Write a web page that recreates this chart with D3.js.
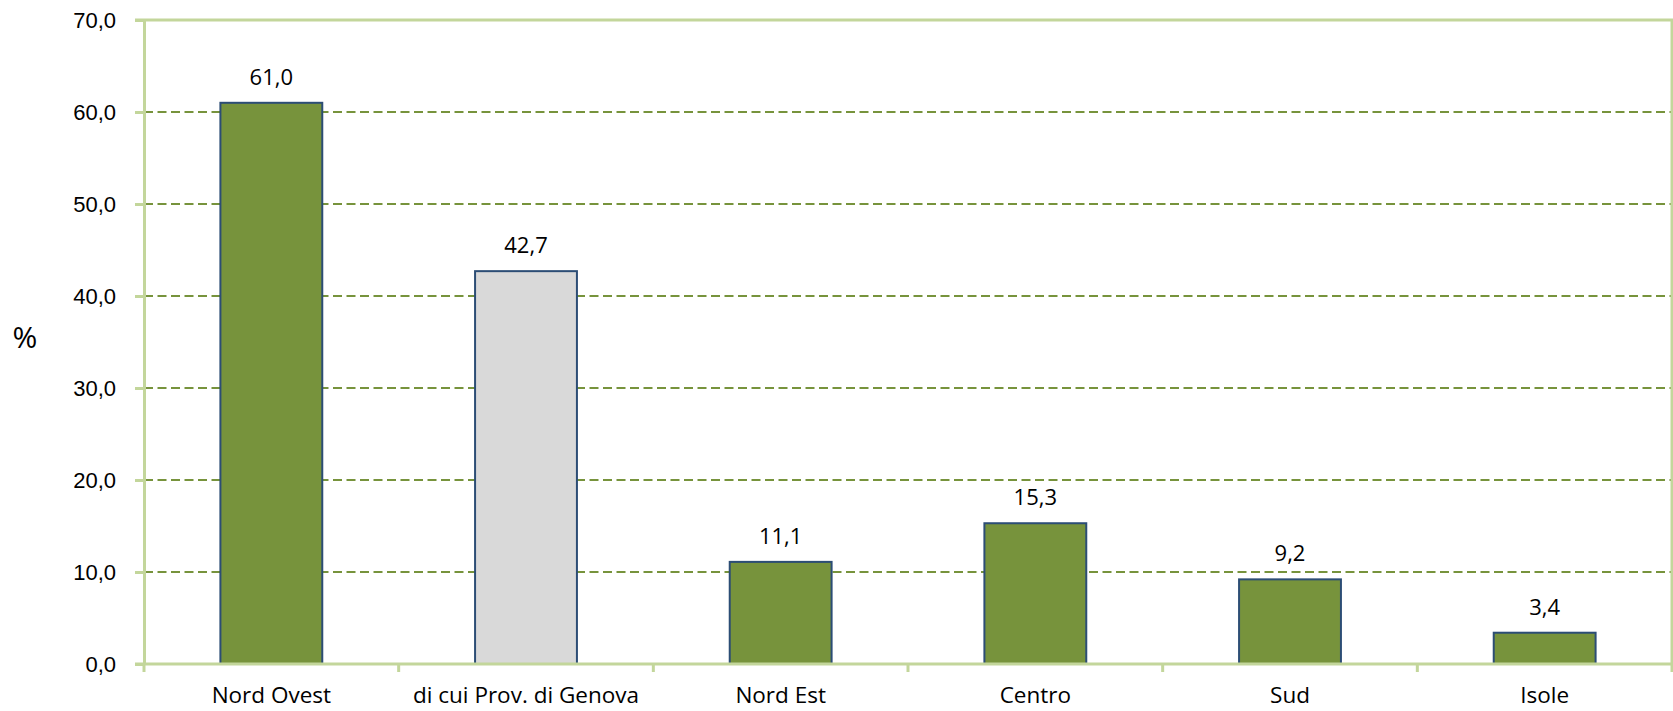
<!DOCTYPE html>
<html>
<head>
<meta charset="utf-8">
<script src="https://cdn.jsdelivr.net/npm/d3@7"></script>
<style>
    body { margin: 0; background: #fff; }
    svg { display: block; font-family: "Open Sans", sans-serif; }
    .axis path, .axis line { stroke: #c3d69b; stroke-width: 3; }
    .axis text { fill: #000; font-size: 22px; }
    .axis .label { font-size: 22.5px; }
    .grid line { stroke: #77933c; stroke-width: 2; stroke-dasharray: 9 4.5; }
    .bar { stroke: #2c4d75; stroke-width: 2; }
    .value { font-size: 22px; fill: #000; }
</style>
</head>
<body>
<div id="chart"></div>
<script>

var categories = ["Nord Ovest", "di cui Prov. di Genova", "Nord Est", "Centro", "Sud", "Isole"];
var values = [61.0, 42.7, 11.1, 15.3, 9.2, 3.4];
var highlighted = ["di cui Prov. di Genova"];
var yTicks = [0, 10, 20, 30, 40, 50, 60, 70];

var width = 1673
    , height = 711
    , margin = {top: 20, right: 1, bottom: 47, left: 144}
    ;

var it = d3.formatLocale({decimal: ",", thousands: ".", grouping: [3], currency: ["", " €"]});
var fmt = it.format(".1f");

var data = categories.map(function(c, i) {
    return {name: c, value: values[i]};
});

var svg = d3.select("#chart")
    .append("svg")
    .attr("width", width)
    .attr("height", height);

var w = width - margin.left - margin.right
    , h = height - margin.top - margin.bottom;

var g = svg.append("g")
    .attr("transform", "translate(" + margin.left + "," + margin.top + ")");

var x = d3.scaleBand()
    .domain(categories)
    .range([0, w])
    .paddingInner(0.6)
    .paddingOuter(0.3);

var y = d3.scaleLinear()
    .domain([0, 70])
    .range([h, 0]);

// dashed gridlines (top one is the plot border)
g.append("g")
    .attr("class", "grid")
    .selectAll("line")
    .data(yTicks.filter(function(d) { return d > 0 && d < 70; }))
    .enter().append("line")
    .attr("x1", 0)
    .attr("x2", w)
    .attr("y1", function(d) { return y(d); })
    .attr("y2", function(d) { return y(d); });

// plot border: top and right
g.append("path")
    .attr("d", "M" + (-9) + "," + y(70) + "H" + w + "V" + h)
    .attr("fill", "none")
    .attr("stroke", "#c3d69b")
    .attr("stroke-width", 3);

g.selectAll(".bar")
    .data(data)
    .enter().append("rect")
    .attr("class", "bar")
    .attr("x", function(d) { return x(d.name); })
    .attr("y", function(d) { return y(d.value); })
    .attr("width", x.bandwidth())
    .attr("height", function(d) { return h - y(d.value); })
    .attr("fill", function(d) { return highlighted.indexOf(d.name) >= 0 ? "#d9d9d9" : "#77933c"; });

g.selectAll(".value")
    .data(data)
    .enter().append("text")
    .attr("class", "value")
    .attr("x", function(d) { return x(d.name) + x.bandwidth() / 2; })
    .attr("y", function(d) { return y(d.value) - 18; })
    .attr("text-anchor", "middle")
    .text(function(d) { return fmt(d.value); });

var yAxis = d3.axisLeft(y)
    .tickValues(yTicks)
    .tickSizeInner(9)
    .tickSizeOuter(0)
    .tickPadding(19)
    .tickFormat(fmt);

g.append("g")
    .attr("class", "axis axis--y")
    .call(yAxis);

// x axis: ticks at category boundaries
var xAxisG = g.append("g")
    .attr("class", "axis axis--x")
    .attr("transform", "translate(0," + h + ")");

xAxisG.append("line")
    .attr("x1", -9)
    .attr("x2", w);

xAxisG.selectAll(".tick-b")
    .data(d3.range(categories.length + 1))
    .enter().append("line")
    .attr("class", "tick-b")
    .attr("x1", function(i) { return i * x.step(); })
    .attr("x2", function(i) { return i * x.step(); })
    .attr("y1", 0)
    .attr("y2", 8);

xAxisG.selectAll(".label")
    .data(categories)
    .enter().append("text")
    .attr("class", "label")
    .attr("x", function(d) { return x(d) + x.bandwidth() / 2; })
    .attr("y", 39)
    .attr("text-anchor", "middle")
    .text(function(d) { return d; });

svg.append("text")
    .attr("x", 25)
    .attr("y", 348)
    .attr("text-anchor", "middle")
    .style("font-size", "30px")
    .text("%");

</script>
</body>
</html>
